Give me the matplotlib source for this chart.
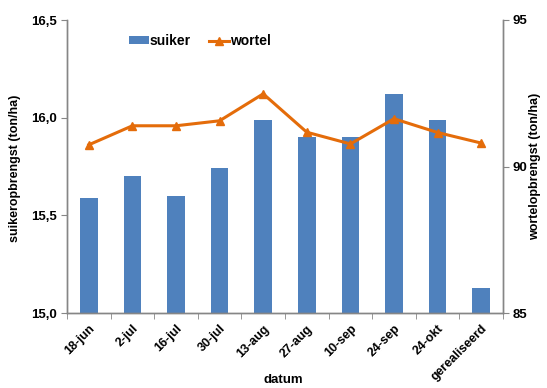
import matplotlib
matplotlib.use("Agg")
import matplotlib.pyplot as plt
import numpy as np
from matplotlib.lines import Line2D
from matplotlib.patches import Patch

plt.rcParams['font.family'] = ['Liberation Sans', 'DejaVu Sans']
plt.rcParams['font.weight'] = 'bold'

categories = ["18-jun", "2-jul", "16-jul", "30-jul", "13-aug", "27-aug",
              "10-sep", "24-sep", "24-okt", "gerealiseerd"]
suiker = [15.59, 15.70, 15.60, 15.74, 15.99, 15.90, 15.90, 16.12, 15.99, 15.13]
wortel = [90.74, 91.39, 91.39, 91.56, 92.48, 91.17, 90.77, 91.63, 91.16, 90.80]
left_ticks = [15.0, 15.5, 16.0, 16.5]
left_ticklabels = ["15,0", "15,5", "16,0", "16,5"]
right_ticks = [85, 90, 95]

BLUE = "#4F81BD"
ORANGE = "#E46C0A"
SPINE = "#868686"

W, H = 547, 388
fig = plt.figure(figsize=(W / 100, H / 100), dpi=100)
ax = fig.add_axes([67 / W, 1 - 313 / H, 436 / W, 293 / H])
ax2 = ax.twinx()

x = np.arange(len(categories))
ax.bar(x, np.array(suiker) - 15.0, bottom=15.0, width=0.4, color=BLUE, zorder=2)
ax2.plot(x, wortel, color=ORANGE, lw=2.2, marker="^", markersize=5.5,
         markeredgecolor=ORANGE, zorder=3)

ax.set_xlim(-0.5, len(categories) - 0.5)
ax.set_ylim(15.0, 16.5)
ax2.set_ylim(85, 95)

ax.set_yticks(left_ticks)
ax.set_yticklabels(left_ticklabels, fontsize=9.5, fontweight="bold")
ax2.set_yticks(right_ticks)
ax2.set_yticklabels([str(t) for t in right_ticks], fontsize=9.5, fontweight="bold")

ax.set_xticks(x)
ax.set_xticklabels(categories, rotation=45, ha="right", rotation_mode="anchor",
                   fontsize=9, fontweight="bold")
ax.set_xticks(np.arange(-0.5, len(categories)), minor=True)
ax.tick_params(axis="x", which="major", length=0, pad=7)
ax.tick_params(axis="x", which="minor", length=4, color=SPINE, direction="out")
ax.tick_params(axis="y", length=4, color=SPINE, direction="out", pad=3)
ax2.tick_params(axis="y", length=4, color=SPINE, direction="out", pad=3)

for a in (ax, ax2):
    a.spines["top"].set_visible(False)
    for s in ("left", "right", "bottom"):
        a.spines[s].set_color(SPINE)
        a.spines[s].set_linewidth(1.0)

# axis titles placed in figure pixels
fig.text(15 / W, 1 - 168 / H, "suikeropbrengst (ton/ha)", rotation=90,
         ha="center", va="center", fontsize=9, fontweight="bold")
fig.text(535 / W, 1 - 166 / H, "wortelopbrengst (ton/ha)", rotation=90,
         ha="center", va="center", fontsize=9, fontweight="bold")
fig.text(283 / W, 1 - 380 / H, "datum", ha="center", va="center",
         fontsize=9.5, fontweight="bold")

handles = [Patch(facecolor=BLUE, edgecolor="none"),
           Line2D([0], [0], color=ORANGE, lw=2.2, marker="^", markersize=5.5)]
ax.legend(handles, ["suiker", "wortel"], loc="center", bbox_to_anchor=(0.305, 0.928),
          ncol=2, frameon=False, handlelength=1.4, handleheight=0.5,
          handletextpad=0.1, columnspacing=1.3, prop={"weight": "bold", "size": 10})

fig.savefig("out.png", dpi=100)
